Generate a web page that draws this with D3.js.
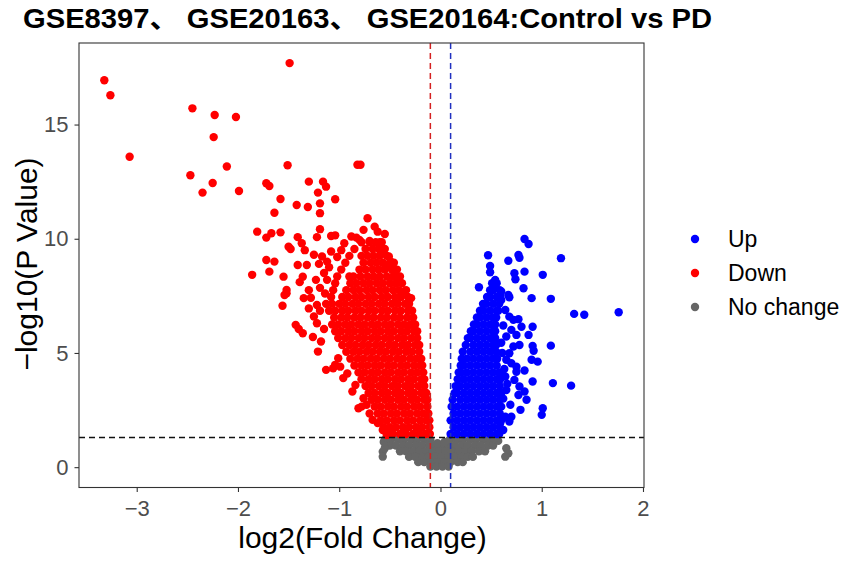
<!DOCTYPE html>
<html><head><meta charset="utf-8">
<script src="https://cdn.jsdelivr.net/npm/d3@7"></script>
<style>
body{margin:0;background:#fff}
text{font-family:"Liberation Sans",Arial,"Noto Sans CJK SC",sans-serif}
</style>
</head><body>
<svg id="c" width="851" height="563"></svg>
<script>
const titleText = "GSE8397、 GSE20163、 GSE20164:Control vs PD";
const xLabel = "log2(Fold Change)";
const yLabel = "\u2212log10(P Value)";
const xTicks = [-3,-2,-1,0,1,2];
const yTicks = [0,5,10,15];
const legendLabels = ["Up","Down","No change"];
const fcCut = 0.1;
const pCut = 1.3;

// Down (red): dense rows [y, x1, x2, ...]
const downRows = [
 [1.45,-0.53,-0.47,-0.40,-0.34,-0.27,-0.21,-0.15,-0.105],
 [1.75,-0.56,-0.50,-0.44,-0.37,-0.31,-0.24,-0.18,-0.11],
 [2.05,-0.59,-0.53,-0.46,-0.40,-0.33,-0.27,-0.20,-0.14,-0.11],
 [2.35,-0.62,-0.56,-0.49,-0.43,-0.36,-0.30,-0.23,-0.17,-0.12],
 [2.65,-0.65,-0.59,-0.52,-0.46,-0.39,-0.33,-0.26,-0.20,-0.13],
 [2.95,-0.68,-0.62,-0.55,-0.49,-0.42,-0.36,-0.29,-0.23,-0.16,-0.13],
 [3.25,-0.71,-0.65,-0.58,-0.52,-0.45,-0.39,-0.32,-0.26,-0.19,-0.14],
 [3.55,-0.74,-0.68,-0.61,-0.55,-0.48,-0.42,-0.35,-0.29,-0.22,-0.16],
 [3.85,-0.78,-0.71,-0.65,-0.58,-0.52,-0.45,-0.39,-0.32,-0.26,-0.19,-0.16],
 [4.15,-0.81,-0.75,-0.68,-0.62,-0.55,-0.49,-0.42,-0.36,-0.29,-0.23,-0.17],
 [4.45,-0.85,-0.78,-0.72,-0.65,-0.59,-0.52,-0.46,-0.39,-0.33,-0.26,-0.20,-0.18],
 [4.75,-0.89,-0.82,-0.76,-0.69,-0.63,-0.56,-0.50,-0.43,-0.37,-0.30,-0.24,-0.19],
 [5.05,-0.93,-0.86,-0.80,-0.73,-0.67,-0.60,-0.54,-0.47,-0.41,-0.34,-0.28,-0.21],
 [5.35,-0.97,-0.90,-0.84,-0.77,-0.71,-0.64,-0.58,-0.51,-0.45,-0.38,-0.32,-0.25,-0.21],
 [5.65,-1.01,-0.94,-0.88,-0.81,-0.75,-0.68,-0.62,-0.55,-0.49,-0.42,-0.36,-0.29,-0.23],
 [5.95,-1.04,-0.98,-0.91,-0.85,-0.78,-0.72,-0.65,-0.59,-0.52,-0.46,-0.39,-0.33,-0.26,-0.23],
 [6.25,-1.07,-1.01,-0.94,-0.88,-0.81,-0.75,-0.68,-0.62,-0.55,-0.49,-0.42,-0.36,-0.29,-0.25],
 [6.55,-1.05,-0.98,-0.92,-0.85,-0.79,-0.72,-0.66,-0.59,-0.53,-0.46,-0.40,-0.33,-0.27],
 [6.85,-1.10,-1.04,-0.97,-0.91,-0.84,-0.78,-0.71,-0.65,-0.58,-0.52,-0.45,-0.39,-0.32,-0.28],
 [7.15,-1.13,-1.07,-1.00,-0.94,-0.87,-0.81,-0.74,-0.68,-0.61,-0.55,-0.48,-0.42,-0.35,-0.31],
 [7.45,-1.08,-0.97,-0.91,-0.84,-0.78,-0.71,-0.65,-0.58,-0.52,-0.45,-0.39,-0.32],
 [7.75,-1.06,-0.93,-0.86,-0.80,-0.73,-0.67,-0.60,-0.54,-0.47,-0.41,-0.34],
 [8.05,-1.04,-0.89,-0.83,-0.76,-0.70,-0.63,-0.57,-0.50,-0.44,-0.38],
 [8.35,-1.02,-0.86,-0.79,-0.72,-0.66,-0.60,-0.53,-0.47,-0.40],
 [8.65,-0.98,-0.80,-0.74,-0.67,-0.61,-0.55,-0.48,-0.43],
 [8.95,-0.94,-0.76,-0.69,-0.63,-0.57,-0.50,-0.46],
 [9.25,-0.90,-0.78,-0.72,-0.66,-0.60,-0.53],
 [9.55,-0.85,-0.74,-0.67,-0.61,-0.55],
 [9.85,-0.78,-0.70,-0.64,-0.58]
];
// Down (red): scattered points [x, y]
const downScatter = [
 [-3.32,16.94],[-3.26,16.28],[-3.07,13.59],[-1.49,17.69],[-2.45,15.71],[-2.23,15.42],[-2.02,15.33],[-2.24,14.45],
 [-2.47,12.78],[-2.25,12.44],[-2.35,12.02],[-2.11,13.16],[-1.99,12.09],[-1.51,13.22],[-0.82,13.24],[-0.79,13.24],
 [-1.72,12.43],[-1.69,12.31],[-1.58,11.74],[-1.64,11.14],[-1.42,11.48],[-1.31,11.39],[-1.30,12.50],[-1.21,12.02],
 [-1.16,12.50],[-1.13,12.28],[-1.19,11.55],[-1.19,11.12],[-1.04,11.73],[-1.81,10.31],[-1.72,10.05],[-1.67,10.24],
 [-1.58,10.28],[-1.50,9.65],[-1.48,9.55],[-1.41,10.07],[-1.37,9.80],[-1.34,9.50],[-1.19,10.42],[-1.22,10.07],
 [-1.17,9.22],[-1.08,10.12],[-1.04,10.15],[-1.08,9.44],[-0.72,10.90],[-0.76,10.39],[-0.65,10.53],[-0.62,10.31],
 [-0.55,10.21],[-0.80,9.95],[-0.70,9.90],[-0.60,9.85],[-0.51,9.22],[-1.72,9.07],[-1.64,9.00],[-1.69,8.56],
 [-1.86,8.42],[-1.55,8.34],[-1.41,8.85],[-1.32,8.85],[-1.36,8.34],[-1.39,8.10],[-1.52,7.76],[-1.54,7.54],
 [-1.56,7.07],[-1.43,6.23],[-1.22,6.30],[-1.19,6.85],[-1.35,7.40],[-1.28,7.42],[-1.30,7.75],[-0.54,8.78],
 [-0.29,7.40],[-0.35,7.69],[-0.30,6.23],[-1.40,6.05],[-1.36,5.86],[-1.18,5.50],[-1.21,5.06],[-1.13,4.26],
 [-1.04,4.48],[-1.01,4.77],[-0.87,3.31],[-0.76,3.02],[-0.78,2.65],[-0.81,2.58],[-0.73,2.73],[-0.67,2.07],
 [-0.62,1.93],[-0.57,1.63],[-0.53,1.41],[-1.06,4.33],[-1.52,7.61],[-1.19,7.85],[-1.20,8.90],[-1.12,9.00],
 [-1.25,9.30],[-1.15,8.50],[-1.23,8.20],[-1.10,8.75],[-1.02,9.20],[-0.98,9.50],[-0.95,9.80],[-0.88,10.10],
 [-0.45,8.60],[-0.42,8.30],[-0.49,9.00],[-0.83,10.05],[-1.25,6.60],[-1.30,6.95],[-1.22,7.10],[-1.26,5.70],
 [-1.15,6.05],[-1.14,7.60],[-1.12,8.20],[-0.96,3.90],[-0.92,4.10],[-0.84,3.60],[-0.70,2.35],[-0.99,4.40],
 [-0.58,9.50],[-0.90,8.35]
];

// Up (blue): dense rows [y, x1, x2, ...]
const upRows = [
 [1.45,0.10,0.165,0.23,0.295,0.36,0.425,0.49,0.555,0.58],
 [1.75,0.13,0.195,0.26,0.325,0.39,0.455,0.52,0.585],
 [2.05,0.10,0.165,0.23,0.295,0.36,0.425,0.49,0.555,0.60],
 [2.35,0.13,0.195,0.26,0.325,0.39,0.455,0.52,0.585],
 [2.65,0.11,0.165,0.23,0.295,0.36,0.425,0.49,0.555,0.59],
 [2.95,0.12,0.195,0.26,0.325,0.39,0.455,0.52,0.585],
 [3.25,0.14,0.165,0.23,0.295,0.36,0.425,0.49,0.555,0.60],
 [3.55,0.15,0.195,0.26,0.325,0.39,0.455,0.52,0.585],
 [3.85,0.17,0.23,0.295,0.36,0.425,0.49,0.555,0.59],
 [4.15,0.18,0.20,0.26,0.325,0.39,0.455,0.52,0.58],
 [4.45,0.20,0.23,0.295,0.36,0.425,0.49,0.555],
 [4.75,0.21,0.26,0.325,0.39,0.455,0.52,0.56],
 [5.05,0.22,0.295,0.36,0.425,0.49,0.55],
 [5.35,0.25,0.325,0.39,0.455,0.52,0.55],
 [5.65,0.27,0.295,0.36,0.425,0.49,0.54],
 [5.95,0.30,0.325,0.39,0.455,0.52,0.54],
 [6.25,0.33,0.36,0.425,0.49,0.54],
 [6.55,0.36,0.39,0.455,0.52,0.55],
 [6.85,0.39,0.425,0.49,0.555,0.57],
 [7.15,0.42,0.455,0.52,0.58],
 [7.45,0.46,0.49,0.555,0.59],
 [7.75,0.49,0.52,0.585],
 [8.05,0.51,0.555]
];
// Up (blue): scattered points [x, y]
const upScatter = [
 [0.83,9.99],[0.87,9.77],[0.47,9.28],[0.67,9.04],[0.77,9.29],[0.78,9.17],[1.19,9.15],[0.49,8.81],
 [0.49,8.53],[0.73,8.49],[0.74,8.23],[0.83,8.56],[1.01,8.42],[0.38,7.88],[0.54,8.20],[0.52,7.90],
 [0.60,7.69],[0.67,7.54],[0.68,7.44],[0.82,7.83],[0.90,7.40],[1.09,7.37],[1.32,6.71],[1.42,6.67],
 [1.76,6.78],[0.91,6.15],[0.87,5.79],[1.09,5.32],[0.91,5.31],[0.92,5.10],[0.90,4.70],[0.96,4.62],
 [0.83,4.23],[0.91,3.75],[1.11,3.68],[1.29,3.57],[1.01,2.58],[1.00,2.29],[0.79,2.51],
 [0.85,2.95],[0.83,3.31],[0.77,3.16],[0.78,3.53],[0.73,3.82],[0.75,4.18],[0.75,4.40],[0.69,2.73],
 [0.70,2.21],[0.68,2.00],[0.62,1.63],[0.65,3.38],[0.64,3.97],[0.65,4.70],[0.68,4.99],[0.72,5.28],
 [0.78,5.35],[0.65,5.72],[0.70,6.01],[0.72,6.45],[0.77,6.48],[0.80,6.15],[0.75,5.79],[0.68,6.59],
 [0.64,6.88],[0.60,7.32],[0.60,2.65],[0.64,2.21],[0.59,1.93],[0.62,3.00],[0.63,4.30],[0.61,5.00],
 [0.60,5.45],[0.62,6.20],[0.66,3.65],[0.70,4.55]
];

// No change (grey): rows [y, x1, x2, ...]
const ncRows = [
 [1.20,-0.55,-0.49,-0.42,-0.36,-0.29,-0.23,-0.16,-0.10,0.09,0.16,0.22,0.29,0.35,0.42,0.48,0.55],
 [0.95,-0.50,-0.44,-0.37,-0.31,-0.24,-0.18,-0.11,-0.05,0.02,0.08,0.14,0.21,0.27,0.34,0.40,0.47,0.52],
 [0.70,-0.40,-0.34,-0.27,-0.21,-0.14,-0.08,-0.01,0.05,0.12,0.18,0.25,0.31,0.38,0.44],
 [0.45,-0.31,-0.25,-0.18,-0.12,-0.05,0.01,0.08,0.14,0.21,0.27,0.32],
 [0.22,-0.22,-0.16,-0.09,-0.03,0.04,0.10,0.17,0.22],
 [0.03,-0.10,-0.04,0.02,0.08]
];
// No change (grey): scattered points [x, y]
const ncScatter = [
 [-0.57,0.68],[-0.57,0.46],[-0.55,0.83],[0.65,0.83],[0.67,0.61],[0.64,0.46],
 [-0.56,1.10],[0.57,1.15],[-0.52,1.28],[0.53,1.28],[-0.03,1.05],[0.04,1.10]
];

const colors = {Up:"#0000FF", Down:"#FF0000", "No change":"#666666"};

function expand(rows, scatter, group){
  const pts = [];
  rows.forEach(r => { for (let i = 1; i < r.length; i++) pts.push({lfc:r[i], p:r[0], group}); });
  scatter.forEach(s => pts.push({lfc:s[0], p:s[1], group}));
  return pts;
}
const data = [
  ...expand(ncRows, ncScatter, "No change"),
  ...expand(downRows, downScatter, "Down"),
  ...expand(upRows, upScatter, "Up")
];

const svg = d3.select("#c");
const L = 79, R = 644, T = 43, B = 487.5;
const x = d3.scaleLinear().domain([-3.57, 2.01]).range([L, R]);
const y = d3.scaleLinear().domain([-0.89, 18.57]).range([B, T]);

svg.append("rect").attr("width",851).attr("height",563).attr("fill","#fff");

// points
svg.append("g").selectAll("circle").data(data).join("circle")
  .attr("cx", d => x(d.lfc)).attr("cy", d => y(d.p)).attr("r", 4.2)
  .attr("fill", d => colors[d.group]);

// threshold lines
svg.append("line").attr("x1", x(-fcCut)).attr("x2", x(-fcCut)).attr("y1", T).attr("y2", B)
  .attr("stroke","#D42020").attr("stroke-width",1.5).attr("stroke-dasharray","6,4");
svg.append("line").attr("x1", x(fcCut)).attr("x2", x(fcCut)).attr("y1", T).attr("y2", B)
  .attr("stroke","#2030C0").attr("stroke-width",1.5).attr("stroke-dasharray","6,4");
svg.append("line").attr("x1", L).attr("x2", R).attr("y1", y(pCut)).attr("y2", y(pCut))
  .attr("stroke","#111").attr("stroke-width",1.5).attr("stroke-dasharray","6,4");

// panel border
svg.append("rect").attr("x", L).attr("y", T).attr("width", R-L).attr("height", B-T)
  .attr("fill","none").attr("stroke","#333").attr("stroke-width",1.1);

// axes
const fmt = d3.format("d");
const gx = svg.append("g").attr("transform",`translate(0,${B})`)
  .call(d3.axisBottom(x).tickValues(xTicks).tickSize(4.5).tickPadding(8).tickFormat(fmt));
const gy = svg.append("g").attr("transform",`translate(${L},0)`)
  .call(d3.axisLeft(y).tickValues(yTicks).tickSize(4.5).tickPadding(6).tickFormat(fmt));
[gx, gy].forEach(g => {
  g.select(".domain").remove();
  g.selectAll(".tick line").attr("stroke","#333").attr("stroke-width",1.1);
  g.selectAll(".tick text").attr("fill","#4D4D4D").style("font-size","22px")
   .style("font-family",'"Liberation Sans",Arial,sans-serif');
});

// axis titles
svg.append("text").attr("x", 362.5).attr("y", 548).attr("text-anchor","middle")
  .style("font-size","30px").attr("fill","#000").text(xLabel);
svg.append("text").attr("transform","translate(37,264) rotate(-90)").attr("text-anchor","middle")
  .style("font-size","30px").attr("fill","#000").text(yLabel);

// title
svg.append("text").attr("x", 23).attr("y", 28).style("font-size","27.5px").style("font-weight","bold")
  .attr("fill","#000").attr("textLength", 689).attr("lengthAdjust","spacingAndGlyphs").text(titleText);

// legend
const lg = svg.append("g");
legendLabels.forEach((lab, i) => {
  const cy = 239 + i*34;
  lg.append("circle").attr("cx", 695).attr("cy", cy).attr("r", 4.2).attr("fill", colors[lab]);
  lg.append("text").attr("x", 728).attr("y", cy + 8).style("font-size","23px").attr("fill","#000").text(lab);
});
</script>
</body></html>
